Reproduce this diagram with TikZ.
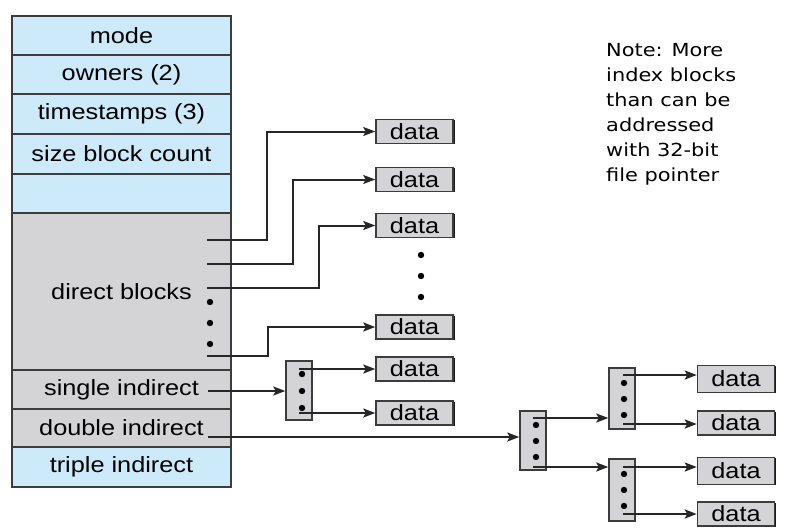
\documentclass[tikz,border=0pt]{standalone}
\usepackage{fontspec}
\setmainfont{Liberation Sans}
\newfontfamily\notefont{DejaVu Sans}
\usetikzlibrary{arrows.meta,shadows}
\definecolor{iblue}{RGB}{204,234,250}
\definecolor{igray}{RGB}{212,212,214}
\definecolor{edgec}{RGB}{60,60,60}
\newcommand\hs[1]{\scalebox{1.15}[1]{#1}}
\begin{document}
\begin{tikzpicture}[x=1pt,y=-1pt,
  row/.style={draw=edgec, line width=1.5pt, minimum width=219pt, inner sep=0pt, font=\fontsize{22}{24}\selectfont},
  databox/.style={draw=edgec, fill=igray, line width=1.5pt, minimum width=77pt, minimum height=24pt, inner sep=0pt,
     font=\fontsize{22}{24}\selectfont, drop shadow={shadow xshift=1.5pt, shadow yshift=-0.5pt, fill=black, opacity=0.9}},
  ixb/.style={draw=edgec, fill=igray, line width=1.5pt, minimum width=26pt, inner sep=0pt},
  arr/.style={line width=2pt, draw=black!85, -{Stealth[length=12pt,width=9pt,inset=2.5pt]}},
  dot/.style={fill=black}]
\useasboundingbox[fill=white] (0,0) rectangle (797,530);

% inode
\node[row, fill=iblue, minimum height=39pt] (mode) at (121.5,35.5) {\hs{mode}};
\node[row, fill=iblue, minimum height=39pt] (own) at (121.5,74.5) {\hs{owners (2)}};
\node[row, fill=iblue, minimum height=40pt] (ts) at (121.5,114) {\hs{timestamps (3)}};
\node[row, fill=iblue, minimum height=40pt] (sz) at (121.5,154) {\hs{size block count}};
\node[row, fill=iblue, minimum height=39pt] (emp) at (121.5,193.5) {};
\node[row, fill=igray, minimum height=157pt] (dir) at (121.5,291.5) {\hs{direct blocks}};
\node[row, fill=igray, minimum height=39pt] (sgl) at (121.5,389.5) {\hs{single indirect}};
\node[row, fill=igray, minimum height=38pt] (dbl) at (121.5,428) {\hs{double indirect}};
\node[row, fill=iblue, minimum height=40pt] (tpl) at (121.5,467) {\hs{triple indirect}};

\foreach \y in {302,323,344} \fill[dot] (210,\y) circle (3.2pt);

% direct data blocks
\node[databox] (d1) at (414.5,131.5) {\hs{data}};
\node[databox] (d2) at (414.5,179.5) {\hs{data}};
\node[databox] (d3) at (414.5,225.5) {\hs{data}};
\node[databox] (d4) at (414.5,327) {\hs{data}};
\node[databox] (d5) at (414.5,369) {\hs{data}};
\node[databox] (d6) at (414.5,413) {\hs{data}};
\foreach \y in {255,276,297} \fill[dot] (421,\y) circle (3.2pt);

\coordinate (p1) at (207,240);
\coordinate (p2) at (207,264);
\coordinate (p3) at (207,288);
\coordinate (p4) at (207,356);
\draw[arr] (p1) -- ++(60,0) |- (d1);
\draw[arr] (p2) -- ++(86,0) |- (d2);
\draw[arr] (p3) -- ++(112,0) |- (d3);
\draw[arr] (p4) -- ++(61,0) |- (d4);

% single indirect
\node[ixb, minimum height=59pt] (ib1) at (299,390.5) {};
\foreach \y in {374,391,408} \fill[dot] (302,\y) circle (3.2pt);
\coordinate (ps) at (208,391);
\draw[arr] (ps) -- (ps -| ib1.west);
\coordinate (s1) at (299,369);
\coordinate (s2) at (299,413);
\draw[arr] (s1) -- (s1 -| d5.west);
\draw[arr] (s2) -- (s2 -| d6.west);

% double indirect
\node[ixb, minimum height=59pt] (ibA) at (533,440.5) {};
\node[ixb, minimum height=61pt] (ibB1) at (622,398.5) {};
\node[ixb, minimum height=62pt] (ibB2) at (622,490) {};
\foreach \y in {425,441,457} \fill[dot] (536,\y) circle (3.2pt);
\foreach \y in {383,399,415} \fill[dot] (624,\y) circle (3.2pt);
\foreach \y in {474,490,506} \fill[dot] (624,\y) circle (3.2pt);

\node[databox, minimum height=27pt] (r1) at (736,379) {\hs{data}};
\node[databox] (r2) at (736,423) {\hs{data}};
\node[databox, minimum height=27pt] (r3) at (736,471) {\hs{data}};
\node[databox] (r4) at (736,514) {\hs{data}};

\coordinate (pd) at (208,437);
\draw[arr] (pd) -- (pd -| ibA.west);
\coordinate (a1) at (533,418);
\coordinate (a2) at (533,467);
\draw[arr] (a1) -- (a1 -| ibB1.west);
\draw[arr] (a2) -- (a2 -| ibB2.west);
\coordinate (b1) at (623,375);
\coordinate (b2) at (623,424);
\coordinate (b3) at (623,467);
\coordinate (b4) at (623,514);
\draw[arr] (b1) -- (b1 -| r1.west);
\draw[arr] (b2) -- (b2 -| r2.west);
\draw[arr] (b3) -- (b3 -| r3.west);
\draw[arr] (b4) -- (b4 -| r4.west);

% note
\node[anchor=north west, inner sep=0pt] (note) at (606,38.5)
  {\notefont\fontsize{18}{25}\selectfont\scalebox{1.16}[1]{\begin{tabular}{@{}l@{}}Note: More\\ index blocks\\ than can be\\ addressed\\ with 32-bit\\ file pointer\end{tabular}}};
\end{tikzpicture}
\end{document}
